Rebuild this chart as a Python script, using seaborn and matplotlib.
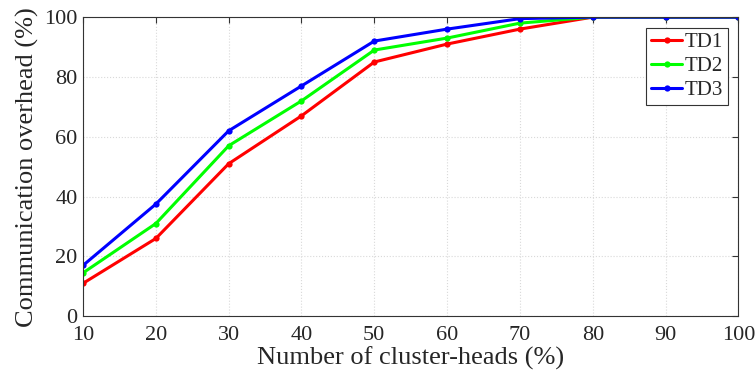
import numpy as np
import pandas as pd
import seaborn as sns
import matplotlib.pyplot as plt

# data
heads = [10, 20, 30, 40, 50, 60, 70, 80, 90, 100]
td1 = [11, 26, 51, 67, 85, 91, 96, 100, 100, 100]
td2 = [14.5, 31, 57, 72, 89, 93, 98, 100, 100, 100]
td3 = [17, 37.5, 62, 77, 92, 96, 99.5, 100, 100, 100]

df = pd.DataFrame({'heads': heads * 3,
                   'overhead': td1 + td2 + td3,
                   'scheme': ['TD1'] * 10 + ['TD2'] * 10 + ['TD3'] * 10})

sns.set_style('white')
plt.rcParams['font.family'] = ['Liberation Serif', 'DejaVu Serif']
plt.rcParams['mathtext.fontset'] = 'stix'

fig, ax = plt.subplots(figsize=(7.55, 3.81), dpi=100)
sns.lineplot(data=df, x='heads', y='overhead', hue='scheme',
             palette={'TD1': '#ff0000', 'TD2': '#00ff00', 'TD3': '#0000ff'},
             marker='o', markersize=4.5, markeredgewidth=0, linewidth=2.2, ax=ax)

ax.set_xlim(10, 100)
ax.set_ylim(0, 100)
ax.set_xticks(np.arange(10, 101, 10))
ax.set_yticks(np.arange(0, 101, 20))
ax.grid(True, color='#d9d9d9', linestyle=':', linewidth=0.8)
ax.tick_params(direction='in', top=True, right=True, labelsize=16, length=4,
               color='#333333')
ax.tick_params(axis='x', pad=7)
ax.tick_params(axis='y', pad=4)
for s in ax.spines.values():
    s.set_color('#333333')
    s.set_linewidth(0.8)
ax.set_xlabel('Number of cluster-heads (%)', fontsize=19, labelpad=1)
ax.set_ylabel('Communication overhead (%)', fontsize=19, labelpad=4)

leg = ax.legend(loc='upper right', fontsize=15, fancybox=False, framealpha=1,
                edgecolor='#333333', handlelength=1.5, handletextpad=0.1,
                borderpad=0.25, labelspacing=0.2, borderaxespad=0.5)
leg.get_frame().set_linewidth(0.8)

fig.subplots_adjust(left=0.11, right=0.978, top=0.955, bottom=0.17)
fig.savefig('out.png', dpi=100)
